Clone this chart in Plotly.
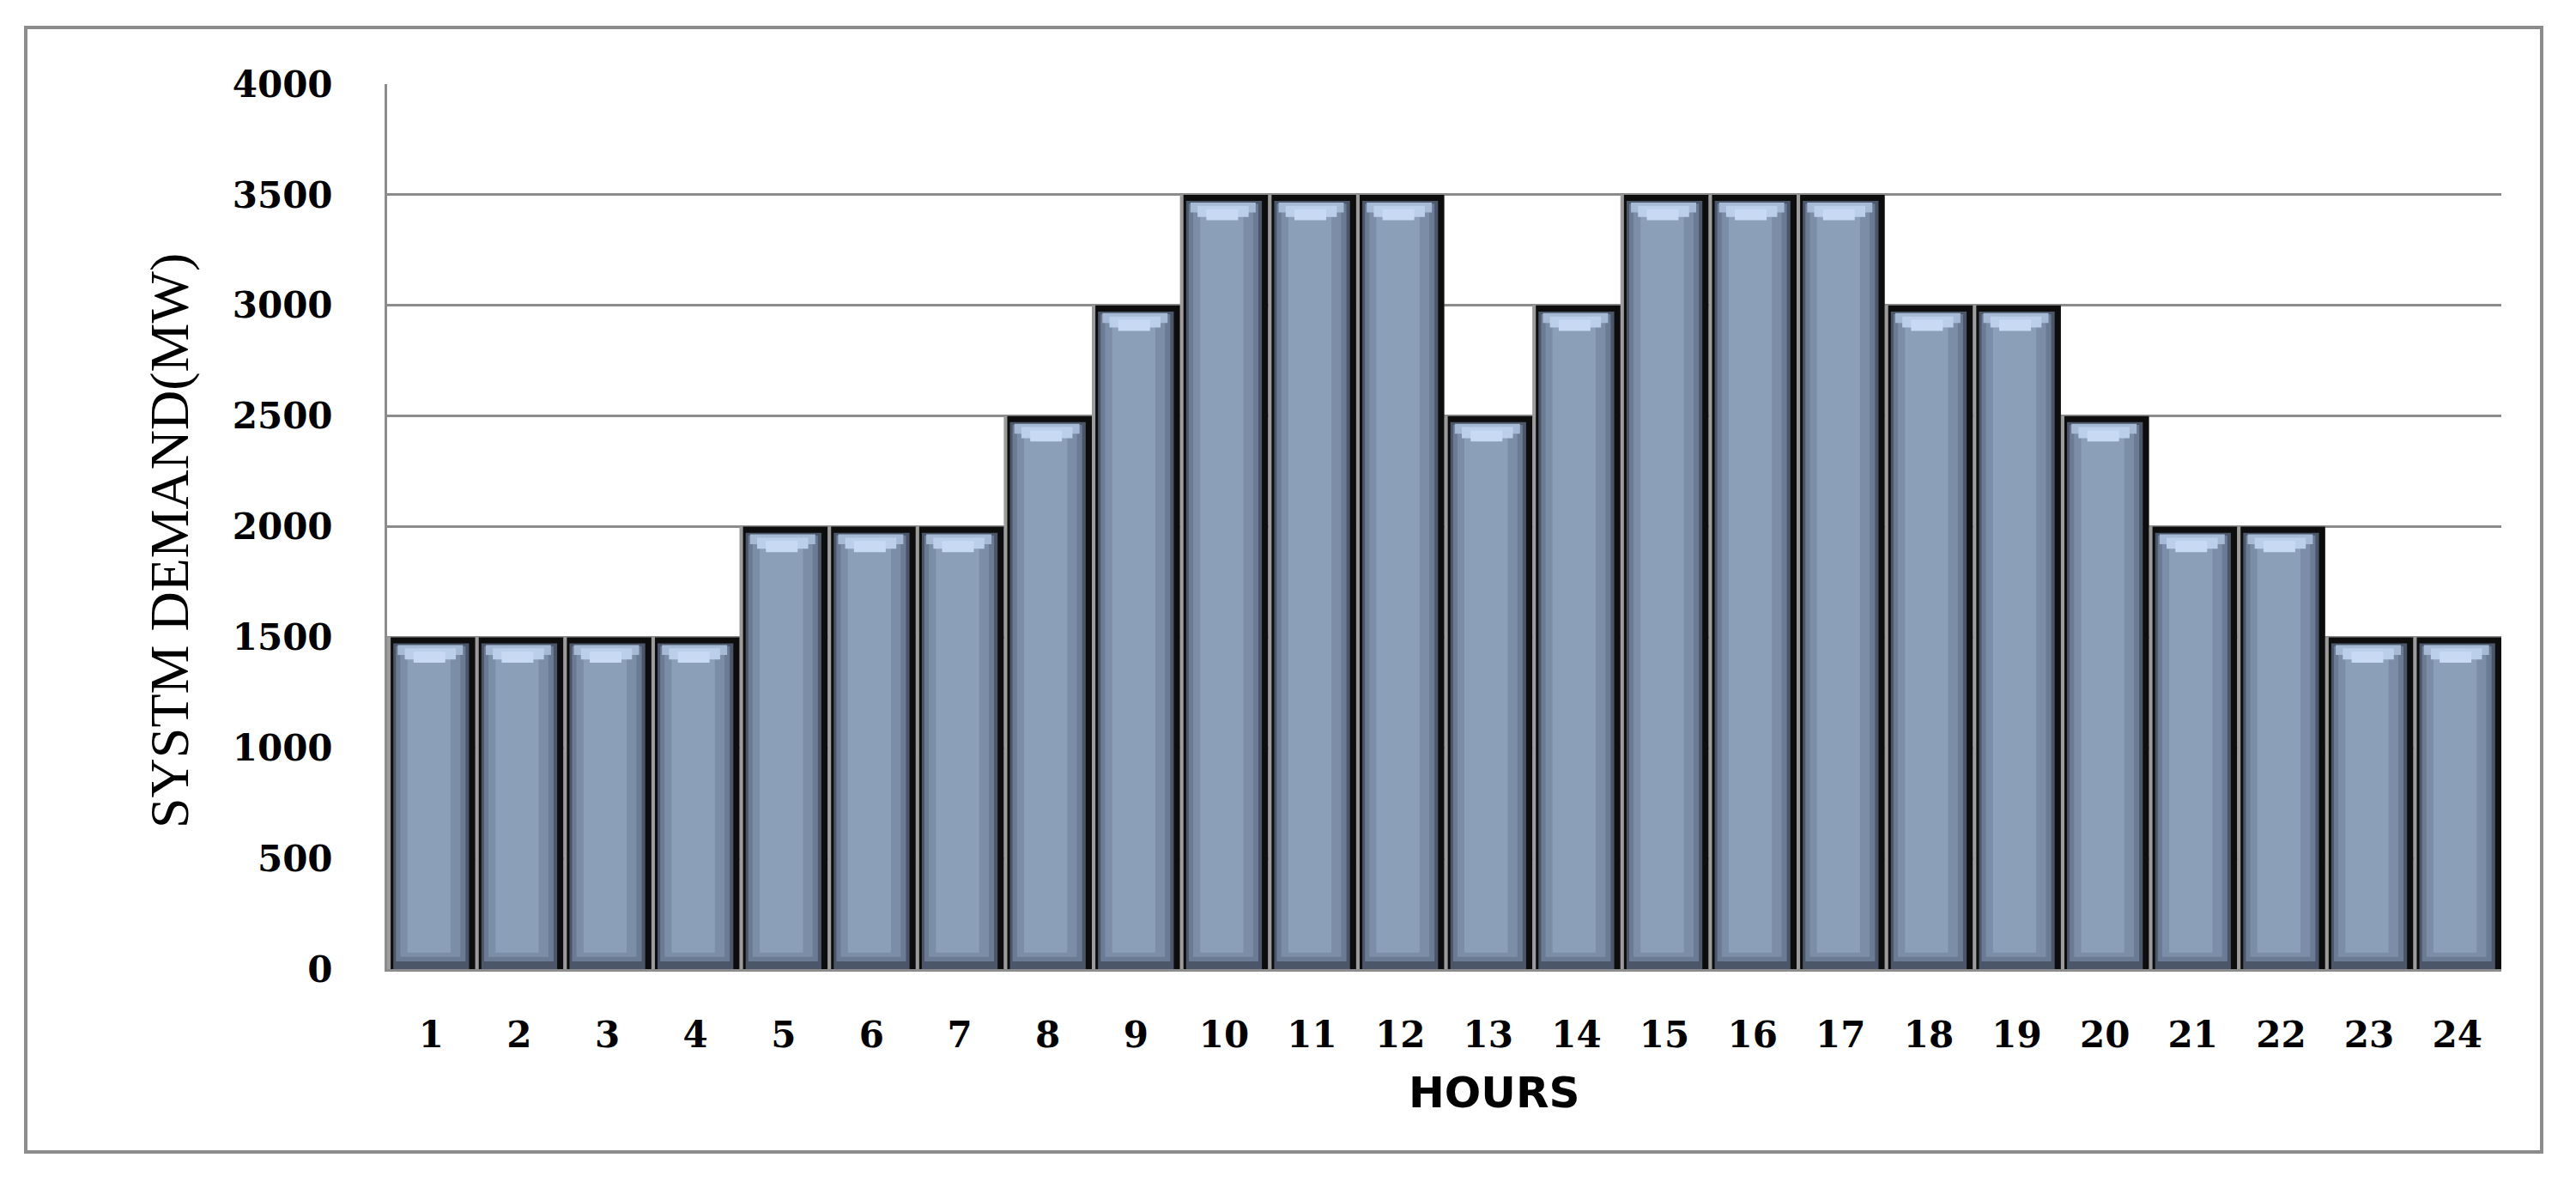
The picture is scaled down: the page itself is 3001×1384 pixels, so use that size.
"""
Hourly system demand bar chart (bevelled bars).
"""
import plotly.graph_objects as go

# data
hours = list(range(1, 25))
demand_mw = [1500, 1500, 1500, 1500, 2000, 2000, 2000, 2500, 3000, 3500, 3500, 3500,
             2500, 3000, 3500, 3500, 3500, 3000, 3000, 2500, 2000, 2000, 1500, 1500]
y_ticks = [0, 500, 1000, 1500, 2000, 2500, 3000, 3500, 4000]

GRID = '#8c8c8c'
W, H = 3001, 1384
L, R, T, B = 443, 95, 90, 263


def layer(color, left, right, base_in=0, top_in=0, top_only=None):
    """One shading layer of the bevelled bar, insets given in data units."""
    if top_only is not None:
        lo, hi = top_only
        base = [v - hi for v in demand_mw]
        y = [hi - lo for v in demand_mw]
    else:
        base = [base_in for v in demand_mw]
        y = [v - top_in - base_in for v in demand_mw]
    return go.Bar(
        x=hours, y=y, base=base,
        width=[right - left] * len(hours),
        offset=[left] * len(hours),
        marker=dict(color=color, line=dict(width=0)),
        hoverinfo='skip', showlegend=False,
    )


fig = go.Figure()
fig.add_trace(layer('#9c9c9c', -0.5, 0.5))
fig.add_trace(layer('#0d0d0d', -0.46, 0.5))
fig.add_trace(layer('#4b5769', -0.43, 0.43, 0, 28))
fig.add_trace(layer('#6b7b93', -0.40, 0.39, 35, 40))
fig.add_trace(layer('#7c8ea7', -0.35, 0.33, 55, 50))
fig.add_trace(layer('#8c9fb8', -0.27, 0.22, 75, 60))
fig.add_trace(layer('#a6bad6', -0.38, 0.36, top_only=(35, 80)))
fig.add_trace(layer('#bccfea', -0.30, 0.28, top_only=(50, 100)))
fig.add_trace(layer('#c8daf3', -0.20, 0.16, top_only=(65, 115)))

fig.update_layout(
    barmode='overlay',
    width=W, height=H,
    margin=dict(l=L, r=R, t=T, b=B),
    paper_bgcolor='white', plot_bgcolor='white',
    showlegend=False,
    xaxis=dict(
        range=[0.5, 24.5], tickvals=hours, ticktext=[str(h) for h in hours],
        showgrid=False, zeroline=False,
        showline=True, linecolor=GRID, linewidth=3,
        ticks='', ticklabelstandoff=38,
        tickfont=dict(family='DejaVu Serif', size=42, color='black', weight='bold'),
    ),
    yaxis=dict(
        range=[0, 4000], tickvals=y_ticks,
        showgrid=True, gridcolor=GRID, gridwidth=3, zeroline=False,
        showline=True, linecolor=GRID, linewidth=3,
        ticks='', ticklabelstandoff=52,
        tickfont=dict(family='DejaVu Serif', size=42, color='black', weight='bold'),
    ),
)

pw, ph = W - L - R, H - T - B
fig.add_shape(
    type='rect', xref='paper', yref='paper',
    x0=(22 - L) / pw, x1=(2953 - L) / pw,
    y0=((H - B) - 1334) / ph, y1=((H - B) - 24) / ph,
    line=dict(color=GRID, width=4), layer='below',
)
fig.add_annotation(
    text='HOURS', xref='paper', yref='paper',
    x=(1732 - L) / pw, y=((H - B) - 1265) / ph,
    showarrow=False, xanchor='center', yanchor='middle',
    font=dict(family='DejaVu Sans', size=50, color='black', weight='bold'),
)
fig.add_annotation(
    text='SYSTM DEMAND(MW)', xref='paper', yref='paper',
    x=(189 - L) / pw, y=((H - B) - 622) / ph, textangle=-90,
    showarrow=False, xanchor='center', yanchor='middle',
    font=dict(family='Liberation Serif', size=64, color='black'),
)

fig.write_html("out.html")
